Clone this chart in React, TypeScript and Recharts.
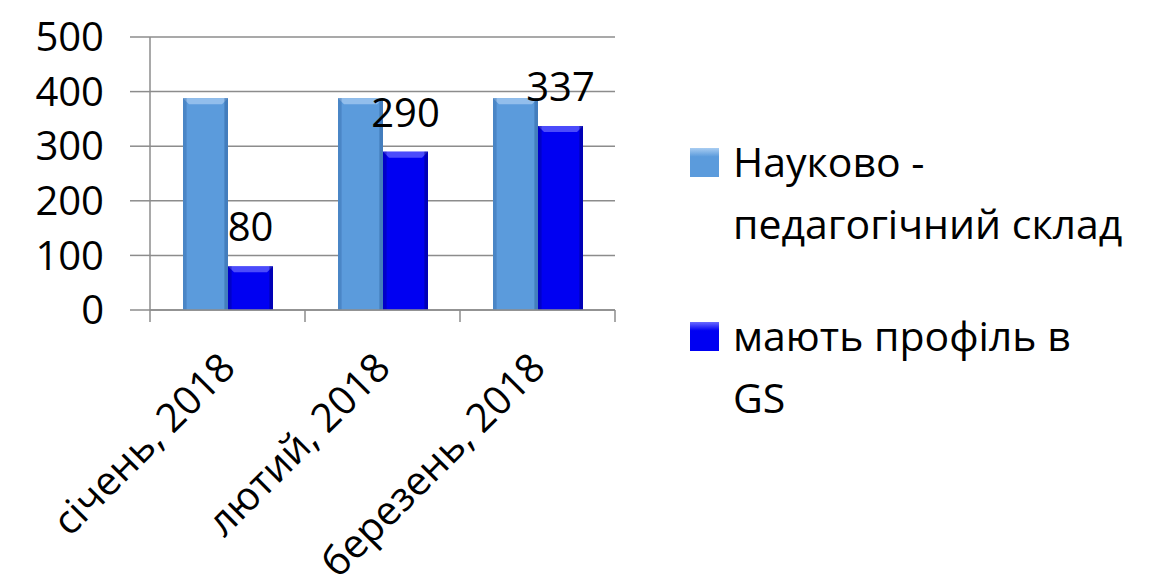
import React from 'react';
import { BarChart, Bar, XAxis, YAxis, CartesianGrid, Legend, LabelList } from 'recharts';

const categories = ['січень, 2018', 'лютий, 2018', 'березень, 2018'];
const staffCount = [388, 388, 388];
const gsProfiles = [80, 290, 337];
const yTicks = [0, 100, 200, 300, 400, 500];
const seriesNames = ['Науково - педагогічний склад', 'мають профіль в GS'];
const legendLines = [['Науково -', 'педагогічний склад'], ['мають профіль в', 'GS']];

const FONT = '"Open Sans", sans-serif';
const LIGHT = '#5b9bdc';
const DARK = '#0000f2';
const AXIS = '#8c8c8c';

const chartData = categories.map((name, i) => ({
  name,
  staff: staffCount[i],
  gs: gsProfiles[i],
}));

function makeBevel(base: string, edge: string, hi: string) {
  return (props: any) => {
    const { x, y, width, height } = props;
    if (!height || height <= 0) return null;
    const b = Math.min(6, width / 6);
    return (
      <g>
        <rect x={x} y={y} width={width} height={height} fill={base} />
        <polygon
          points={`${x},${y} ${x + width},${y} ${x + width - b},${y + b} ${x + b},${y + b}`}
          fill={hi}
          opacity={0.7}
        />
        <rect x={x} y={y} width={b * 0.6} height={height} fill={edge} opacity={0.35} />
        <rect x={x + width - b * 0.6} y={y} width={b * 0.6} height={height} fill={edge} opacity={0.5} />
      </g>
    );
  };
}

const StaffBar = makeBevel(LIGHT, '#2c5f9e', '#a9cdf2');
const GsBar = makeBevel(DARK, '#00007a', '#6b6bff');

function CategoryTick(props: any) {
  const { x, y, payload, index, visibleTicksCount } = props;
  const half = payload?.offset ?? 0;
  const top = y - 8;
  const ax = x + 10;
  const ay = y + 52;
  return (
    <g>
      <line x1={x - half} y1={top} x2={x - half} y2={top + 12} stroke={AXIS} strokeWidth={1.5} />
      {index === (visibleTicksCount ?? categories.length) - 1 && (
        <line x1={x + half} y1={top} x2={x + half} y2={top + 12} stroke={AXIS} strokeWidth={1.5} />
      )}
      <text
        x={ax}
        y={ay}
        transform={`rotate(-45, ${ax}, ${ay})`}
        textAnchor="end"
        fontFamily={FONT}
        fontSize={40}
        fill="#000"
      >
        {payload.value}
      </text>
    </g>
  );
}

function LegendBox() {
  const colors = [
    [LIGHT, '#a9cdf2'],
    [DARK, '#6b6bff'],
  ];
  const tops = [0, 174];
  return (
    <div style={{ position: 'relative', width: 460, height: 300, fontFamily: FONT, fontSize: 41 }}>
      {legendLines.map((lines, i) => (
        <div key={seriesNames[i]} style={{ position: 'absolute', left: 0, top: tops[i] }}>
          <div
            style={{
              position: 'absolute',
              left: 0,
              top: 18,
              width: 29,
              height: 29,
              background: `linear-gradient(180deg, ${colors[i][1]} 0%, ${colors[i][0]} 30%, ${colors[i][0]} 100%)`,
            }}
          />
          {lines.map((t, j) => (
            <div
              key={t}
              style={{ position: 'absolute', left: 43, top: j * 62, whiteSpace: 'nowrap', lineHeight: '62px', color: '#000' }}
            >
              {t}
            </div>
          ))}
        </div>
      ))}
    </div>
  );
}

export default function App() {
  return (
    <div style={{ position: 'absolute', left: 0, top: 0, width: 1161, height: 583, background: '#fff', overflow: 'hidden' }}>
      <BarChart
        width={1161}
        height={583}
        data={chartData}
        margin={{ top: 37, right: 546, left: 0, bottom: 0 }}
        barGap={0}
      >
        <CartesianGrid horizontal vertical={false} stroke={AXIS} strokeWidth={1.5} />
        <XAxis
          dataKey="name"
          height={273}
          interval={0}
          tickLine={false}
          axisLine={{ stroke: AXIS, strokeWidth: 1.5 }}
          tick={<CategoryTick />}
        />
        <YAxis
          width={150}
          domain={[0, 500]}
          ticks={yTicks}
          tickSize={20}
          tickMargin={26}
          tickLine={{ stroke: AXIS, strokeWidth: 1.5 }}
          axisLine={{ stroke: AXIS, strokeWidth: 1.5 }}
          tick={{ fontFamily: FONT, fontSize: 40, fill: '#000' }}
        />
        <Legend
          layout="vertical"
          align="center"
          verticalAlign="middle"
          wrapperStyle={{ left: 690, top: 130, width: 460 }}
          content={() => <LegendBox />}
        />
        <Bar dataKey="staff" name={seriesNames[0]} barSize={45} shape={StaffBar} isAnimationActive={false} />
        <Bar dataKey="gs" name={seriesNames[1]} barSize={45} shape={GsBar} isAnimationActive={false}>
          <LabelList dataKey="gs" position="top" offset={25} fontFamily={FONT} fontSize={40} fill="#000" />
        </Bar>
      </BarChart>
    </div>
  );
}
